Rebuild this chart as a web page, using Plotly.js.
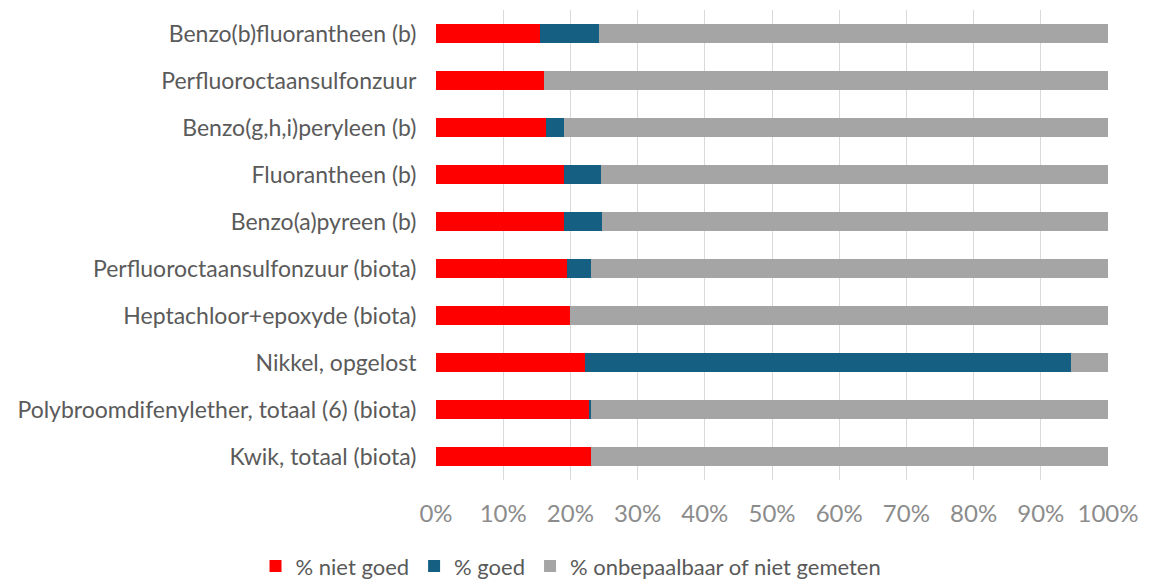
<!DOCTYPE html>
<html><head><meta charset="utf-8">
<script src="https://cdn.plot.ly/plotly-3.0.1.min.js"></script>
<style>body{margin:0;background:#fff}#c{width:1151px;height:579px}</style>
</head><body><div id="c"></div>
<script>
const categories = [
  "Benzo(b)fluorantheen (b)",
  "Perfluoroctaansulfonzuur",
  "Benzo(g,h,i)peryleen (b)",
  "Fluorantheen (b)",
  "Benzo(a)pyreen (b)",
  "Perfluoroctaansulfonzuur (biota)",
  "Heptachloor+epoxyde (biota)",
  "Nikkel, opgelost",
  "Polybroomdifenylether, totaal (6) (biota)",
  "Kwik, totaal (biota)"
];
const nietGoed = [15.5, 16.1, 16.4, 19.0, 19.0, 19.5, 20.0, 22.1, 22.7, 23.1];
const goed =     [8.8, 0, 2.6, 5.6, 5.7, 3.6, 0, 72.4, 0.3, 0];
const onbepaalbaar = [75.7, 83.9, 81.0, 75.4, 75.3, 76.9, 80.0, 5.5, 77.0, 76.9];
const tickVals = [0,10,20,30,40,50,60,70,80,90,100];
const tickText = ["0%","10%","20%","30%","40%","50%","60%","70%","80%","90%","100%"];

const mk = (name, x, color) => ({type:'bar', orientation:'h', name, x, y:categories,
  marker:{color}, hoverinfo:'x+y'});
const data = [
  mk('% niet goed', nietGoed, '#FF0000'),
  mk('% goed', goed, '#156082'),
  mk('% onbepaalbaar of niet gemeten', onbepaalbaar, '#A5A5A5')
];
const font = "Lato, 'Open Sans', sans-serif";
const layout = {
  width:1151, height:579, barmode:'stack', bargap:0.58,
  margin:{l:436, r:43, t:10, b:99},
  paper_bgcolor:'#fff', plot_bgcolor:'#fff',
  font:{family:font, size:23, color:'#595959'},
  xaxis:{range:[0,100], tickvals:tickVals, ticktext:tickText, showgrid:true,
    gridcolor:'#D9D9D9', gridwidth:1, zeroline:false, showline:false,
    tickfont:{size:24, color:'#8C8C8C'}, ticks:'outside', ticklen:12, tickcolor:'rgba(0,0,0,0)'},
  yaxis:{autorange:'reversed', showgrid:false, zeroline:false, showline:false,
    tickfont:{size:23, color:'#5A5A5A'}, ticks:'outside', ticklen:14, tickcolor:'rgba(0,0,0,0)'},
  showlegend:true,
  legend:{orientation:'h', xref:'container', yref:'container', x:0.222, xanchor:'left',
    y:0.022, yanchor:'middle', font:{size:22, color:'#595959'}, itemwidth:30, traceorder:'normal'}
};
Plotly.newPlot('c', data, layout, {displayModeBar:false});
</script></body></html>
